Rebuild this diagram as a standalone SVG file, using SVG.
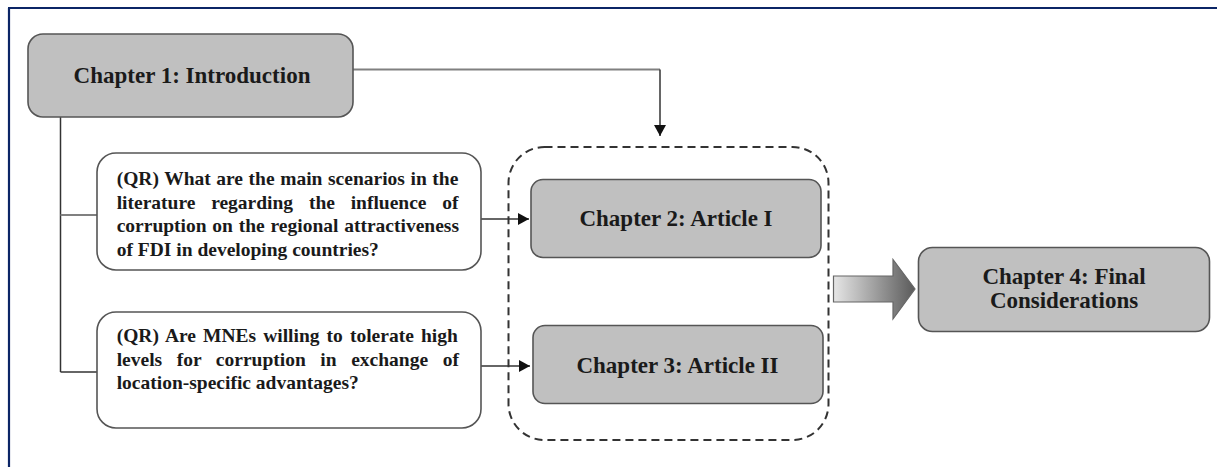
<svg xmlns="http://www.w3.org/2000/svg" width="1217" height="467" viewBox="0 0 1217 467">
<style>
.hd{font-family:"Liberation Serif","Times New Roman",serif;font-weight:bold;font-size:23px;fill:#1a1a1a;text-anchor:middle}
.qr{font-family:"Liberation Serif","Times New Roman",serif;font-weight:bold;font-size:19.5px;fill:#1a1a1a}
.gbox{fill:#c0c0c0;stroke:#555;stroke-width:1.6}
.wbox{fill:#fff;stroke:#555;stroke-width:1.6}
.ln{fill:none;stroke:#333;stroke-width:1.5}
.lg{fill:none;stroke:#808080;stroke-width:2}
</style>
<defs>
<marker id="ah" markerWidth="12" markerHeight="12" refX="11" refY="6" orient="auto" markerUnits="userSpaceOnUse">
<path d="M0,0 L11,6 L0,12 Z" fill="#111"/>
</marker>
<linearGradient id="bg" x1="0" y1="0" x2="1" y2="0">
<stop offset="0" stop-color="#e6e6e6"/>
<stop offset="1" stop-color="#5a5a5a"/>
</linearGradient>
</defs>
<rect width="1217" height="467" fill="#fff"/>
<g id="frame">
<line x1="8" y1="8" x2="1217" y2="8" stroke="#0b2566" stroke-width="2.2"/>
<line x1="9" y1="8" x2="9" y2="467" stroke="#0b2566" stroke-width="2.2"/>
</g>
<g id="connectors">
<line class="ln" x1="60.5" y1="117" x2="60.5" y2="372"/>
<line class="lg" x1="60.5" y1="215" x2="97" y2="215"/>
<line class="ln" x1="60.5" y1="372" x2="97" y2="372"/>
<line class="lg" x1="353" y1="69.5" x2="660" y2="69.5"/>
<line class="ln" x1="660" y1="69.5" x2="660" y2="136" marker-end="url(#ah)"/>
<line class="ln" x1="481" y1="219" x2="529" y2="219" marker-end="url(#ah)"/>
<line class="ln" x1="481" y1="366" x2="530" y2="366" marker-end="url(#ah)"/>
<path d="M833.5,276 L893,276 L893,259.5 L915,289 L893,319 L893,302 L833.5,302 Z" fill="url(#bg)" stroke="#666" stroke-width="1.2"/>
</g>
<g id="group">
<rect x="508.5" y="147" width="320" height="293" rx="36" fill="none" stroke="#333" stroke-width="2" stroke-dasharray="8,5"/>
</g>
<g id="ch1">
<rect class="gbox" x="28" y="34" width="325" height="83" rx="15"/>
<text class="hd" x="192" y="83">Chapter 1: Introduction</text>
</g>
<g id="qr1">
<rect class="wbox" x="97" y="153" width="384" height="117" rx="19"/>
<text class="qr" x="116.7" y="185" style="word-spacing:0.7px">(QR) What are the main scenarios in the</text>
<text class="qr" x="116.7" y="208.5" style="word-spacing:10.9px">literature regarding the influence of</text>
<text class="qr" x="116.7" y="232" style="word-spacing:0.9px">corruption on the regional attractiveness</text>
<text class="qr" x="116.7" y="255.5">of FDI in developing countries?</text>
</g>
<g id="qr2">
<rect class="wbox" x="97" y="312" width="384" height="116" rx="19"/>
<text class="qr" x="116.7" y="342" style="word-spacing:2.2px">(QR) Are MNEs willing to tolerate high</text>
<text class="qr" x="116.7" y="365.5" style="word-spacing:9.7px">levels for corruption in exchange of</text>
<text class="qr" x="116.7" y="389">location-specific advantages?</text>
</g>
<g id="ch2">
<rect class="gbox" x="531" y="179.5" width="290" height="78" rx="12"/>
<text class="hd" x="676" y="226">Chapter 2: Article I</text>
</g>
<g id="ch3">
<rect class="gbox" x="533" y="325.5" width="290" height="78" rx="12"/>
<text class="hd" x="677.5" y="372.5">Chapter 3: Article II</text>
</g>
<g id="ch4">
<rect class="gbox" x="918.5" y="247.5" width="291" height="84" rx="14"/>
<text class="hd" x="1064" y="284">Chapter 4: Final</text>
<text class="hd" x="1064" y="307.5">Considerations</text>
</g>
</svg>
